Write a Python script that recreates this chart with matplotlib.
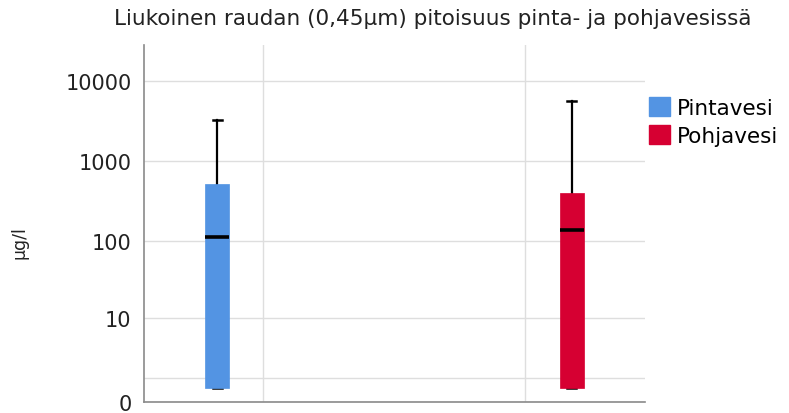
"""Boxplot of dissolved iron in surface and ground water (safe-log y axis)."""

import matplotlib
matplotlib.use("Agg")
import matplotlib.pyplot as plt
import numpy as np

plt.rcParams["font.family"] = ["DejaVu Sans"]

groups = ["Pintavesi", "Pohjavesi"]
colors = ["#5394e3", "#d60032"]
# box stats (µg/l)
mins = [0.5, 0.5]
q1s = [0.5, 0.5]
medians = [114, 137]
q3s = [515, 398]
maxs = [3250, 5600]

yticks = [0, 1, 10, 100, 1000, 10000]
ytick_labels = ["0", "", "10", "100", "1000", "10000"]


def fwd(v):
    return np.log10(1 + np.clip(v, 0, None))


def inv(v):
    return 10 ** v - 1


def main() -> None:
    fig = plt.figure(figsize=(7.89, 4.14), dpi=100)
    ax = fig.add_axes([0.1825, 0.0266, 0.635, 0.8623])

    positions = [0.146, 0.854]
    stats = []
    for i in range(len(groups)):
        stats.append(dict(med=medians[i], q1=q1s[i], q3=q3s[i],
                          whislo=mins[i], whishi=maxs[i], fliers=[]))
    bp = ax.bxp(stats, positions=positions, widths=0.048, patch_artist=True,
                showfliers=False, manage_ticks=False,
                medianprops=dict(color="black", lw=2.6, solid_capstyle="butt"),
                whiskerprops=dict(color="black", lw=1.6),
                capprops=dict(color="black", lw=1.8), capwidths=0.018)
    for patch, c in zip(bp["boxes"], colors):
        patch.set_facecolor(c)
        patch.set_edgecolor(c)
        patch.set_linewidth(0.5)
        patch.set_zorder(3)
    for ln in bp["medians"]:
        ln.set_zorder(4)

    ax.set_yscale("function", functions=(fwd, inv))
    ax.set_ylim(0, 28000)
    ax.set_xlim(0, 1)
    ax.set_yticks(yticks)
    ax.set_yticklabels(ytick_labels)
    ax.set_xticks([0.2375, 0.761])
    ax.set_xticklabels([])
    ax.tick_params(length=0, labelsize=15, colors="#222222", pad=9)
    ax.grid(True, color="#dedede", lw=1)
    ax.set_axisbelow(True)
    for s in ["top", "right"]:
        ax.spines[s].set_visible(False)
    for s in ["left", "bottom"]:
        ax.spines[s].set_color("#8a8a8a")
        ax.spines[s].set_linewidth(1.2)

    ax.set_ylabel("µg/l", fontsize=12.5, color="#222222")
    ax.yaxis.set_label_coords(-0.231, 0.45)
    fig.text(0.548, 0.955, "Liukoinen raudan (0,45µm) pitoisuus pinta- ja pohjavesissä",
             ha="center", va="center", fontsize=15.5, color="#222222")

    handles = [plt.Rectangle((0, 0), 1, 1, color=c) for c in colors]
    fig.legend(handles, groups, loc="upper left", bbox_to_anchor=(0.823, 0.764),
               frameon=False, fontsize=15.5, handlelength=0.95, handleheight=1.0,
               handletextpad=0.35, labelspacing=0.33, borderaxespad=0,
               borderpad=0)

    fig.savefig("out.png", dpi=100)


if __name__ == "__main__":
    main()
